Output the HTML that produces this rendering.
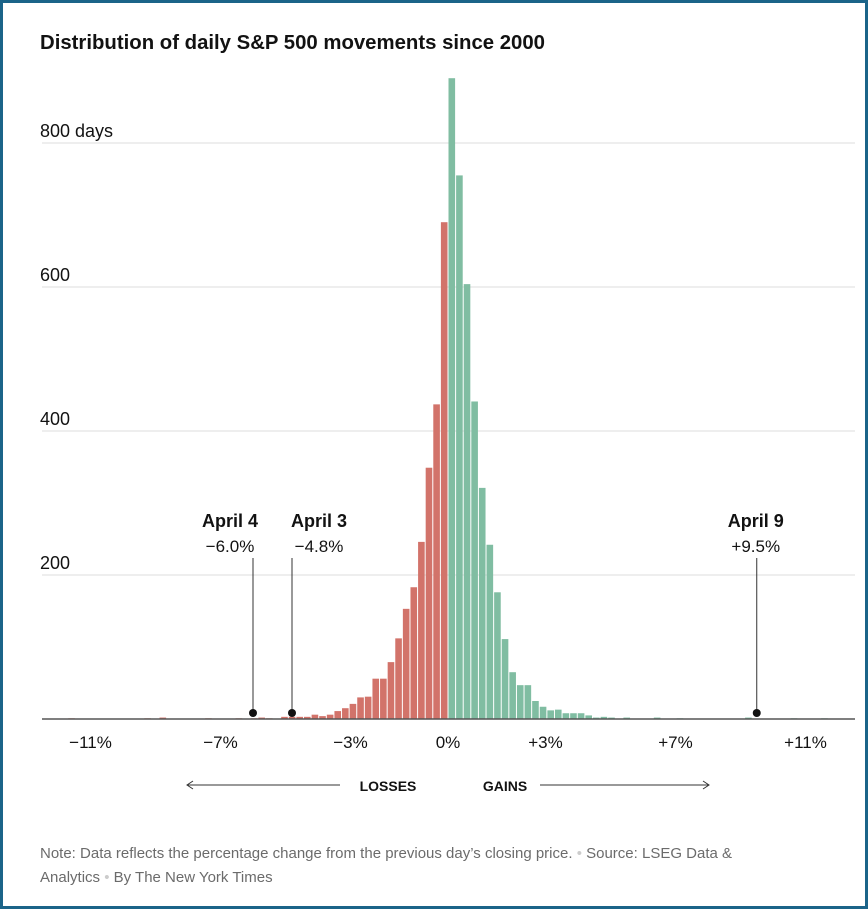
<!DOCTYPE html>
<html><head><meta charset="utf-8"><style>
html,body{margin:0;padding:0;background:#fff}
svg{display:block;font-family:"Liberation Sans",sans-serif}
</style></head><body>
<svg id="chart" width="868" height="909" viewBox="0 0 868 909">
<rect x="1.5" y="1.5" width="865" height="906" fill="#fff" stroke="#1b6489" stroke-width="3"/>
<text x="40" y="49" font-size="20" font-weight="bold" fill="#121212" textLength="505" lengthAdjust="spacingAndGlyphs">Distribution of daily S&amp;P 500 movements since 2000</text>
<g id="grid"></g>
<g id="bars"></g>
<g id="xticks"></g>
<g id="annos"></g>
<line x1="42" y1="719" x2="855" y2="719" stroke="#555" stroke-width="1.5"/>
<g>
<line x1="187" y1="785" x2="340" y2="785" stroke="#333" stroke-width="1"/>
<path d="M193 781 L187 785 L193 789" fill="none" stroke="#333"/>
<text x="388" y="791" font-size="14" font-weight="bold" text-anchor="middle" fill="#121212">LOSSES</text>
<text x="505" y="791" font-size="14" font-weight="bold" text-anchor="middle" fill="#121212">GAINS</text>
<line x1="540" y1="785" x2="709" y2="785" stroke="#333" stroke-width="1"/>
<path d="M703 781 L709 785 L703 789" fill="none" stroke="#333"/>
</g>
<text x="40" y="858" font-size="15" fill="#6b6b6b">Note: Data reflects the percentage change from the previous day’s closing price. <tspan fill="#ccc">•</tspan> Source: LSEG Data &amp;</text>
<text x="40" y="882" font-size="15" fill="#6b6b6b">Analytics <tspan fill="#ccc">•</tspan> By The New York Times</text>
</svg>
<script>
const yTicks = [200, 400, 600, 800];
const xTickValues = [-11, -7, -3, 0, 3, 7, 11];
const xTickLabels = ["−11%", "−7%", "−3%", "0%", "+3%", "+7%", "+11%"];
const lossCounts = [690,437,349,246,183,153,112,79,56,56,31,30,21,15,11,6,4,6,3,3,3,3,0,1,2,1,0,1,0,0,0,1,0,0,0,0,0,2,0,1,0,0,0,0,0,0,0,0,0,1];
const gainCounts = [890,755,604,441,321,242,176,111,65,47,47,25,17,12,13,8,8,8,5,2,3,2,0,2,0,0,0,2,0,0,1,0,0,0,0,0,0,0,0,2,0,0,0,0,0,1,0,0,0,1];
const annoNames = ["April 4", "April 3", "April 9"];
const annoValues = [-6.0, -4.8, 9.5];
const annoLabels = ["−6.0%", "−4.8%", "+9.5%"];
const binWidth = 0.234;

const NS = "http://www.w3.org/2000/svg";
const x = v => 448 + v * 32.5;
const y = v => 719 - v * 0.72;
function mk(tag, attrs, parent) {
  const e = document.createElementNS(NS, tag);
  for (const k in attrs) e.setAttribute(k, attrs[k]);
  parent.appendChild(e);
  return e;
}
const grid = document.getElementById("grid");
yTicks.forEach((t, i) => {
  const l = mk("line", {x1: 42, x2: 855, y1: y(t), y2: y(t), stroke: "#ddd", "stroke-width": 1}, grid);
  
  
  const tx = mk("text", {x: 40, y: y(t) - 6, "font-size": 18, fill: "#121212"}, grid);
  tx.textContent = t + (i === yTicks.length - 1 ? " days" : "");
  
  
});
const bars = document.getElementById("bars");
const bw = binWidth * 32.5;
lossCounts.forEach((c, i) => {
  if (c <= 0) return;
  const r = mk("rect", {x: x(-(i + 1) * binWidth) + 0.5, y: y(c), width: bw - 1, height: y(0) - y(c), fill: "#d2736a"}, bars);
  
  
});
gainCounts.forEach((c, i) => {
  if (c <= 0) return;
  const r = mk("rect", {x: x(i * binWidth) + 0.5, y: y(c), width: bw - 1, height: y(0) - y(c), fill: "#80bda2"}, bars);
  
  
});
const xt = document.getElementById("xticks");
xTickValues.forEach((v, i) => {
  const t = mk("text", {x: x(v), y: 748, "font-size": 17, "text-anchor": "middle", fill: "#121212"}, xt);
  t.textContent = xTickLabels[i];
  
  
});
const an = document.getElementById("annos");
const labelOffsets = [-23, 27, -1];
annoValues.forEach((v, i) => {
  const g = mk("g", {}, an);
  
  
  const cx = x(v) + labelOffsets[i];
  const n = mk("text", {x: cx, y: 527, "font-size": 18, "font-weight": "bold", "text-anchor": "middle", fill: "#121212"}, g);
  n.textContent = annoNames[i];
  const p = mk("text", {x: cx, y: 552, "font-size": 17, "text-anchor": "middle", fill: "#121212"}, g);
  p.textContent = annoLabels[i];
  mk("line", {x1: x(v), x2: x(v), y1: 558, y2: 713, stroke: "#333", "stroke-width": 1}, g);
  mk("circle", {cx: x(v), cy: 713, r: 4, fill: "#121212"}, g);
});
</script>
</body></html>
